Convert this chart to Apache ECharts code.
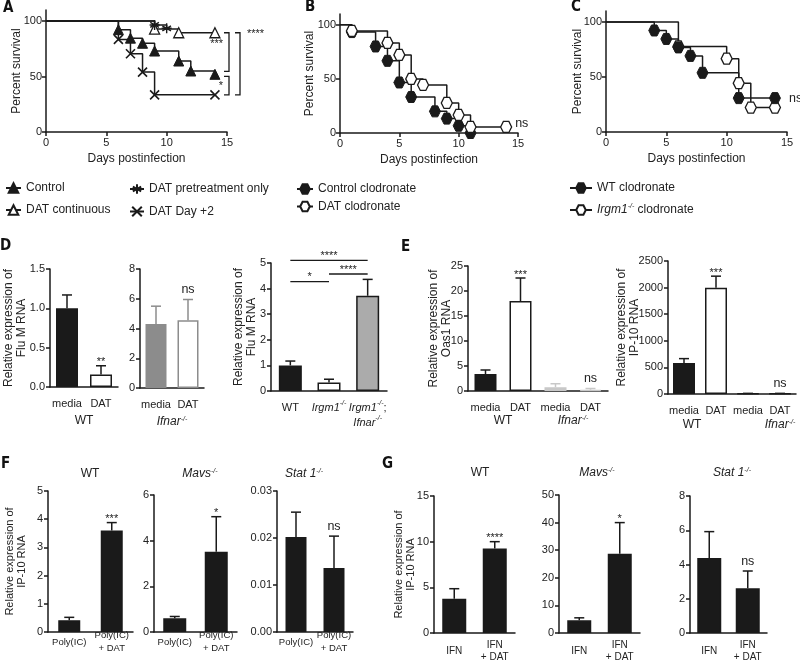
<!DOCTYPE html>
<html>
<head>
<meta charset="utf-8">
<script src="https://cdn.jsdelivr.net/npm/echarts@6/dist/echarts.min.js"></script>
<style>
  html, body { margin: 0; padding: 0; background: #fff; }
  #chart { width: 800px; height: 660px; }
</style>
</head>
<body>
<div id="chart"></div>
<script>
// ---- survival curves, [day, percent survival]
const aControl = [[0, 100], [6, 92.3], [7, 84.6], [8, 80], [9, 73], [11, 64], [12, 55], [14, 52]]
const aDatContinuous = [[0, 100], [9, 92.8], [11, 89.5], [14, 89.5]]
const aDatPretreat = [[0, 100], [9, 96.5], [10, 93.5]]
const aDatDay2 = [[0, 100], [6, 83.5], [7, 70.5], [8, 54], [9, 33.5], [14, 33.5]]
const bControlClod = [[0, 100], [1, 93.3], [3, 80], [4, 66.7], [5, 46.7], [6, 33.3], [8, 20], [9, 13.3], [10, 6.7], [11, 0]]
const bDatClod = [[0, 100], [1, 94.4], [4, 83.3], [5, 72.2], [6, 50], [7, 44.4], [9, 27.8], [10, 16.7], [11, 5.6], [14, 5.6]]
const cWtClod = [[0, 100], [4, 92.3], [5, 84.6], [6, 76.9], [7, 69.2], [8, 53.8], [11, 30.8], [14, 30.8]]
const cIrgmClod = [[0, 100], [6, 77.8], [10, 66.7], [11, 44.4], [12, 22.2], [14, 22.2]]
const survTicksX = [0, 5, 10, 15]
const survTicksY = [0, 50, 100]

// ---- D: Flu M RNA
const dCats = ['media', 'DAT']
const dWtMean = [1.0, 0.16]
const dWtErr = [1.17, 0.27] // upper end of error bar
const dWtSig = ['', '**']
const dIfnarMean = [4.3, 4.55]
const dIfnarErr = [5.5, 5.95]
const dIfnarSig = ['', 'ns']
const dGenoCats = ['WT', 'Irgm1-/-', 'Irgm1-/-;\nIfnar-/-']
const dGenoMean = [1.0, 0.33, 3.72]
const dGenoErr = [1.17, 0.46, 4.36]
const dGenoSig = ['', '', '']
const dGenoPairs = [[0, 2, 5.1, '****'], [0, 1, 4.27, '*'], [1, 2, 4.57, '****']]

// ---- E: Oas1 / IP-10 RNA
const eCats = ['WT|media', 'WT|DAT', 'Ifnar|media', 'Ifnar|DAT']
const eGroups = ['WT', 'Ifnar-/-']
const eOasMean = [3.4, 18.0, 0.75, 0.25]
const eOasErr = [4.2, 22.6, 1.45, 0.5]
const eOasSig = ['', '***', '', 'ns']
const eIp10Mean = [585, 1995, 8, 8]
const eIp10Err = [665, 2215, 12, 12]
const eIp10Sig = ['', '***', '', 'ns']

// ---- F: IP-10 RNA after Poly(IC)
const fCats = ['Poly(IC)', 'Poly(IC)\n+ DAT']
const fWtMean = [0.42, 3.6]
const fWtErr = [0.52, 3.88]
const fWtSig = ['', '***']
const fMavsMean = [0.6, 3.52]
const fMavsErr = [0.68, 5.05]
const fMavsSig = ['', '*']
const fStatMean = [0.0202, 0.0136]
const fStatErr = [0.0255, 0.0204]
const fStatSig = ['', 'ns']

// ---- G: IP-10 RNA after IFN
const gCats = ['IFN', 'IFN\n+ DAT']
const gWtMean = [3.75, 9.25]
const gWtErr = [4.85, 10.0]
const gWtSig = ['', '****']
const gMavsMean = [4.6, 28.7]
const gMavsErr = [5.5, 40.0]
const gMavsSig = ['', '*']
const gStatMean = [4.38, 2.62]
const gStatErr = [5.92, 3.62]
const gStatSig = ['', 'ns']

const FONT = '"Liberation Sans", Arial, sans-serif'
const INK = '#1a1a1a'
const TXT = '#222'
const WHITE = '#ffffff'
const GREY = '#8c8c8c'
const MIDGREY = '#ababab'
const LIGHT = '#c8c8c8'

function gene (s) {
  return s.replace(/(Irgm1|Ifnar|Mavs|Stat 1)-\/-/g, '{i|$1}{s|-/-}')
}
function rich (fs) {
  return {
    i: { fontStyle: 'italic', fontSize: fs, fontFamily: FONT, color: TXT },
    s: { fontStyle: 'italic', fontSize: Math.round(fs * 0.6), fontFamily: FONT, color: TXT, verticalAlign: 'top' }
  }
}
const lineSt = { color: INK, width: 1.5 }

const grids = []
const xAxes = []
const yAxes = []
const series = []

function addGrid (rect) {
  grids.push(Object.assign({ outerBoundsMode: 'none', containLabel: false }, rect))
  return grids.length - 1
}

// 生存曲线面板
function addSurvPanel (rect, yGap) {
  const gi = addGrid(rect)
  xAxes.push({
    type: 'value', gridIndex: gi, min: 0, max: 15, interval: 5,
    axisLine: { lineStyle: lineSt },
    axisTick: { length: 4, lineStyle: lineSt, customValues: survTicksX },
    axisLabel: { fontSize: 11, color: TXT, fontFamily: FONT, margin: 5, customValues: survTicksX },
    splitLine: { show: false },
    name: 'Days postinfection', nameLocation: 'middle', nameGap: 21, nameMoveOverlap: false,
    nameTextStyle: { fontSize: 12, color: TXT, fontFamily: FONT }
  })
  yAxes.push({
    type: 'value', gridIndex: gi, min: 0, max: 110, interval: 50,
    axisLine: { show: true, lineStyle: lineSt },
    axisTick: { show: true, length: 4, lineStyle: lineSt, customValues: survTicksY },
    axisLabel: { fontSize: 11, color: TXT, fontFamily: FONT, margin: 4, customValues: survTicksY, formatter: v => (v > 100 ? '' : v) },
    splitLine: { show: false },
    name: 'Percent survival', nameLocation: 'middle', nameRotate: 90, nameGap: yGap, nameMoveOverlap: false,
    nameTextStyle: { fontSize: 12, color: TXT, fontFamily: FONT }
  })
  return gi
}

function survSeries (name, pts, gi, sym) {
  return {
    type: 'line', name: name, xAxisIndex: gi, yAxisIndex: gi,
    step: 'end', showAllSymbol: true, animation: false, silent: true,
    data: pts.map((p, i) => (i === 0 ? { value: p, symbol: 'none' } : p)),
    symbol: sym.symbol, symbolSize: sym.size,
    lineStyle: { color: INK, width: 1.5 },
    itemStyle: { color: sym.fill, borderColor: INK, borderWidth: sym.bw }
  }
}

const TRI = 'triangle'
const STAR = 'path://M5,0L5,10M0.67,2.5L9.33,7.5M0.67,7.5L9.33,2.5M0,5L10,5'
const CROSS = 'path://M0,0L10,10M0,10L10,0'
const HEX = 'path://M2.5,0L7.5,0L10,4.33L7.5,8.66L2.5,8.66L0,4.33Z'

const gA = addSurvPanel({ left: 46, top: 10, width: 181, height: 122 }, 23)
const gB = addSurvPanel({ left: 340, top: 14, width: 178, height: 119 }, 24)
const gC = addSurvPanel({ left: 606, top: 11, width: 181, height: 121 }, 22)

series.push(
  survSeries('Control', aControl, gA, { symbol: TRI, size: 10, fill: INK, bw: 1 }),
  survSeries('DAT continuous', aDatContinuous, gA, { symbol: TRI, size: 10, fill: WHITE, bw: 1.3 }),
  survSeries('DAT pretreatment only', aDatPretreat, gA, { symbol: STAR, size: 10, fill: INK, bw: 1.4 }),
  survSeries('DAT Day +2', aDatDay2, gA, { symbol: CROSS, size: 9, fill: INK, bw: 1.6 }),
  survSeries('Control clodronate', bControlClod, gB, { symbol: HEX, size: 11, fill: INK, bw: 1 }),
  survSeries('DAT clodronate', bDatClod, gB, { symbol: HEX, size: 11, fill: WHITE, bw: 1.3 }),
  survSeries('Irgm1-/- clodronate', cIrgmClod, gC, { symbol: HEX, size: 11, fill: WHITE, bw: 1.3 }),
  survSeries('WT clodronate', cWtClod, gC, { symbol: HEX, size: 11, fill: INK, bw: 1 })
)

// A 的显著性括号
const lastVal = pts => pts[pts.length - 1][1]
const aBrackets = [
  { top: lastVal(aDatContinuous), bot: lastVal(aControl), text: '***', outer: false, at: 0.28, padBot: 3 },
  { top: lastVal(aControl), bot: lastVal(aDatDay2), text: '*', outer: false, at: 0.5, padTop: 2 },
  { top: lastVal(aDatContinuous), bot: lastVal(aDatDay2), text: '****', outer: true, at: 0.02 }
]
series.push({
  type: 'custom', xAxisIndex: gA, yAxisIndex: gA, silent: true, animation: false, clip: false,
  data: aBrackets.map(b => [15, b.top, b.bot]),
  encode: { x: 0, y: [1, 2] },
  renderItem: function (params, api) {
    const b = aBrackets[params.dataIndex]
    const p1 = api.coord([api.value(0), api.value(1)])
    const p2 = api.coord([api.value(0), api.value(2)])
    const x = p1[0] + (b.outer ? 13 : 2)
    const y1 = p1[1] + (b.padTop || 0)
    const y2 = p2[1] - (b.padBot || 0)
    const st = { stroke: INK, lineWidth: 1.3, fill: null }
    const ty = y1 + (y2 - y1) * b.at
    return {
      type: 'group',
      children: [
        { type: 'polyline', shape: { points: [[x - 5, y1], [x, y1], [x, y2], [x - 5, y2]] }, style: st },
        {
          type: 'text', x: b.outer ? x + 7 : x - 6, y: ty,
          style: { text: b.text, align: b.outer ? 'left' : 'right', verticalAlign: 'middle', fontSize: 11, fontFamily: FONT, fill: TXT }
        }
      ]
    }
  }
})

// B / C 的 "ns"，放在曲线末端右侧
function nsAtEnd (gi, ends, dx, dy) {
  const v = ends.reduce((s, e) => s + e, 0) / ends.length
  return {
    type: 'custom', xAxisIndex: gi, yAxisIndex: gi, silent: true, animation: false, clip: false,
    data: [[14, v]],
    encode: { x: 0, y: 1 },
    renderItem: function (params, api) {
      const p = api.coord([api.value(0), api.value(1)])
      return {
        type: 'text', x: p[0] + dx, y: p[1] + dy,
        style: { text: 'ns', align: 'left', verticalAlign: 'middle', fontSize: 12.5, fontFamily: FONT, fill: TXT }
      }
    }
  }
}
series.push(nsAtEnd(gB, [lastVal(bDatClod)], 9, -3))
series.push(nsAtEnd(gC, [lastVal(cWtClod), lastVal(cIrgmClod)], 14, -4))

// 误差线 + 显著性标记
function errorRender (c) {
  return function (params, api) {
    const i = params.dataIndex
    const base = api.coord([api.value(0), api.value(1)])
    const top = api.coord([api.value(0), api.value(2)])
    const col = c.errColor[i]
    const st = { stroke: col, lineWidth: 1.5 }
    const kids = [
      { type: 'line', shape: { x1: base[0], y1: base[1], x2: top[0], y2: top[1] }, style: st },
      { type: 'line', shape: { x1: top[0] - c.cap, y1: top[1], x2: top[0] + c.cap, y2: top[1] }, style: st }
    ]
    const s = c.sig[i]
    if (s) {
      const isNs = s === 'ns'
      kids.push({
        type: 'text', x: top[0], y: top[1] + (isNs ? -3 : 2),
        style: { text: s, align: 'center', verticalAlign: 'bottom', fontSize: isNs ? 12.5 : 11, fontFamily: FONT, fill: TXT }
      })
    }
    return { type: 'group', children: kids }
  }
}

function addBarPanel (c) {
  const gi = addGrid({ left: c.left, top: c.top, width: c.width, height: c.height })
  const xi = xAxes.length
  const yi = yAxes.length
  const lab = c.label
  xAxes.push({
    type: 'category', gridIndex: gi, data: c.cats,
    axisLine: { lineStyle: lineSt },
    axisTick: { alignWithLabel: true, length: 4, lineStyle: lineSt },
    axisLabel: {
      interval: 0, fontSize: lab.size, color: TXT, fontFamily: FONT, margin: lab.margin,
      verticalAlign: lab.valign || 'top', lineHeight: lab.lh,
      formatter: v => gene(v.split('|').pop()), rich: rich(lab.size)
    },
    splitLine: { show: false },
    name: c.group ? gene(c.group) : '', nameLocation: 'middle', nameGap: 28, nameMoveOverlap: false,
    nameTextStyle: { fontSize: 12, color: TXT, fontFamily: FONT, rich: rich(12) }
  })
  yAxes.push({
    type: 'value', gridIndex: gi, min: 0, max: c.max, interval: c.step,
    axisLine: { show: true, lineStyle: lineSt },
    axisTick: { show: true, length: 4, lineStyle: lineSt },
    axisLabel: { fontSize: 11, color: TXT, fontFamily: FONT, margin: 5, formatter: v => v.toFixed(c.dec || 0) },
    splitLine: { show: false },
    name: c.yName || '', nameLocation: 'middle', nameRotate: 90, nameGap: c.nameGap || 20, nameMoveOverlap: false,
    nameTextStyle: { fontSize: c.nameSize || 12, lineHeight: (c.nameSize || 12) + 1, color: TXT, fontFamily: FONT }
  })
  series.push({
    type: 'bar', xAxisIndex: xi, yAxisIndex: yi, barWidth: c.barWidth, animation: false, silent: true, z: 2,
    data: c.mean.map((v, i) => ({ value: v, itemStyle: { color: c.fill[i], borderColor: c.stroke[i], borderWidth: 1.5 } }))
  })
  series.push({
    type: 'custom', xAxisIndex: xi, yAxisIndex: yi, animation: false, silent: true, z: 3, clip: false,
    data: c.mean.map((v, i) => [i, v, c.err[i]]),
    encode: { x: 0, y: [1, 2] },
    renderItem: errorRender(c)
  })
  if (c.pairs) {
    series.push({
      type: 'custom', xAxisIndex: xi, yAxisIndex: yi, animation: false, silent: true, z: 3, clip: false,
      data: c.pairs.map(p => [p[0], p[1], p[2]]),
      encode: { x: [0, 1], y: 2 },
      renderItem: function (params, api) {
        const p = c.pairs[params.dataIndex]
        const a = api.coord([api.value(0), api.value(2)])
        const b = api.coord([api.value(1), api.value(2)])
        return {
          type: 'group',
          children: [
            { type: 'line', shape: { x1: a[0], y1: a[1], x2: b[0], y2: b[1] }, style: { stroke: INK, lineWidth: 1.3 } },
            { type: 'text', x: (a[0] + b[0]) / 2, y: a[1] + 1, style: { text: p[3], align: 'center', verticalAlign: 'bottom', fontSize: 11, fontFamily: FONT, fill: TXT } }
          ]
        }
      }
    })
  }
  if (c.groups) {
    // 组标签放在重叠的第二个 grid 里
    const gr = c.groupRect || { left: c.left, width: c.width }
    const g2 = addGrid({ left: gr.left, top: c.top, width: gr.width, height: c.height })
    xAxes.push({
      type: 'category', gridIndex: g2, data: c.groups, offset: c.groupOffset,
      axisLine: { show: false }, axisTick: { show: false }, splitLine: { show: false },
      axisLabel: { interval: 0, fontSize: 12, color: TXT, fontFamily: FONT, margin: 0, formatter: v => gene(v), rich: rich(12) }
    })
    yAxes.push({ type: 'value', gridIndex: g2, show: false, min: 0, max: 1 })
  }
}

const labDE = { size: 11, margin: 9, lh: 15 }
const labF = { size: 9.5, margin: 10, lh: 12.5, valign: 'middle' }
const labG = { size: 10, margin: 18, lh: 12, valign: 'middle' }
const solid = [INK, INK]
const cap = 5

addBarPanel({ left: 50, top: 269, width: 68, height: 118, max: 1.5, step: 0.5, dec: 1, barWidth: 22, cap,
  cats: dCats, mean: dWtMean, err: dWtErr, sig: dWtSig, fill: [INK, WHITE], stroke: solid, errColor: solid,
  label: labDE, group: 'WT', yName: 'Relative expression of\nFlu M RNA', nameGap: 22 })
addBarPanel({ left: 140, top: 269, width: 64, height: 119, max: 8, step: 2, barWidth: 21, cap,
  cats: dCats, mean: dIfnarMean, err: dIfnarErr, sig: dIfnarSig, fill: [GREY, WHITE], stroke: [GREY, GREY], errColor: [GREY, GREY],
  label: labDE, group: 'Ifnar-/-' })
addBarPanel({ left: 271, top: 263, width: 116, height: 128, max: 5, step: 1, barWidth: 23, cap,
  cats: dGenoCats, mean: dGenoMean, err: dGenoErr, sig: dGenoSig, fill: [INK, WHITE, MIDGREY], stroke: [INK, INK, INK], errColor: [INK, INK, INK],
  label: labDE, pairs: dGenoPairs, yName: 'Relative expression of\nFlu M RNA', nameGap: 12.5 })
addBarPanel({ left: 468, top: 266, width: 140, height: 125, max: 25, step: 5, barWidth: 22, cap,
  cats: eCats, mean: eOasMean, err: eOasErr, sig: eOasSig, fill: [INK, WHITE, LIGHT, WHITE], stroke: [INK, INK, LIGHT, LIGHT], errColor: [INK, INK, LIGHT, LIGHT],
  label: labDE, groups: eGroups, groupOffset: 24, yName: 'Relative expression of\nOas1 RNA', nameGap: 14.5 })
addBarPanel({ left: 668, top: 261, width: 128, height: 133, max: 2500, step: 500, barWidth: 22, cap,
  cats: eCats, mean: eIp10Mean, err: eIp10Err, sig: eIp10Sig, fill: [INK, WHITE, INK, INK], stroke: [INK, INK, INK, INK], errColor: [INK, INK, INK, INK],
  label: labDE, groups: eGroups, groupOffset: 25, groupRect: { left: 648, width: 176 }, yName: 'Relative expression of\nIP-10 RNA', nameGap: 27 })
addBarPanel({ left: 48, top: 491, width: 85, height: 141, max: 5, step: 1, barWidth: 22, cap,
  cats: fCats, mean: fWtMean, err: fWtErr, sig: fWtSig, fill: solid, stroke: solid, errColor: solid,
  label: labF, yName: 'Relative expression of\nIP-10 RNA', nameGap: 20, nameSize: 11 })
addBarPanel({ left: 154, top: 495, width: 83, height: 137, max: 6, step: 2, barWidth: 23, cap,
  cats: fCats, mean: fMavsMean, err: fMavsErr, sig: fMavsSig, fill: solid, stroke: solid, errColor: solid, label: labF })
addBarPanel({ left: 277, top: 491, width: 76, height: 141, max: 0.03, step: 0.01, dec: 2, barWidth: 21, cap,
  cats: fCats, mean: fStatMean, err: fStatErr, sig: fStatSig, fill: solid, stroke: solid, errColor: solid, label: labF })
addBarPanel({ left: 434, top: 496, width: 81, height: 137, max: 15, step: 5, barWidth: 24, cap,
  cats: gCats, mean: gWtMean, err: gWtErr, sig: gWtSig, fill: solid, stroke: solid, errColor: solid,
  label: labG, yName: 'Relative expression of\nIP-10 RNA', nameGap: 17.5, nameSize: 11 })
addBarPanel({ left: 559, top: 495, width: 81, height: 138, max: 50, step: 10, barWidth: 24, cap,
  cats: gCats, mean: gMavsMean, err: gMavsErr, sig: gMavsSig, fill: solid, stroke: solid, errColor: solid, label: labG })
addBarPanel({ left: 690, top: 496, width: 77, height: 137, max: 8, step: 2, barWidth: 24, cap,
  cats: gCats, mean: gStatMean, err: gStatErr, sig: gStatSig, fill: solid, stroke: solid, errColor: solid, label: labG })

const legText = { fontSize: 12, color: TXT, fontFamily: FONT, lineHeight: 14, rich: rich(12) }
function legend (names, left, top, gap, w, textGap) {
  return {
    data: names, left: left, top: top, orient: 'vertical', itemGap: gap, itemWidth: w, itemHeight: 12,
    itemTextGap: textGap, selectedMode: false, padding: 0, textStyle: legText, formatter: n => gene(n)
  }
}

const letterFont = 'bold 15px "Liberation Sans Narrow", "DejaVu Sans Condensed", sans-serif'
const letters = [['A', 3, 1], ['B', 305, 0], ['C', 571, 0], ['D', 0, 239], ['E', 401, 240], ['F', 1, 457], ['G', 382, 457]]
const titles = [['WT', 90, 474], ['Mavs-/-', 200, 474], ['Stat 1-/-', 304, 474], ['WT', 480, 473], ['Mavs-/-', 597, 473], ['Stat 1-/-', 732, 473]]

const graphic = letters.map(l => ({
  type: 'text', x: l[1], y: l[2], silent: true,
  style: { text: l[0], font: letterFont, fill: '#111', verticalAlign: 'top' }
})).concat(titles.map(t => ({
  type: 'text', x: t[1], y: t[2], silent: true,
  style: { text: gene(t[0]), align: 'center', verticalAlign: 'middle', fontSize: 12, fontFamily: FONT, fill: TXT, rich: rich(12) }
})))

const option = {
  animation: false,
  backgroundColor: '#fff',
  textStyle: { fontFamily: FONT },
  grid: grids,
  xAxis: xAxes,
  yAxis: yAxes,
  legend: [
    legend(['Control', 'DAT continuous'], 5, 181, 8, 15, 4),
    legend(['DAT pretreatment only', 'DAT Day +2'], 129, 182, 8.5, 14, 5),
    legend(['Control clodronate', 'DAT clodronate'], 296, 182, 3.5, 16, 6),
    legend(['WT clodronate', 'Irgm1-/- clodronate'], 569, 181, 8, 22, 10)
  ],
  graphic: graphic,
  series: series
}

const myChart = echarts.init(document.getElementById('chart'), null, { renderer: 'canvas' })
myChart.setOption(option)
</script>
</body>
</html>
